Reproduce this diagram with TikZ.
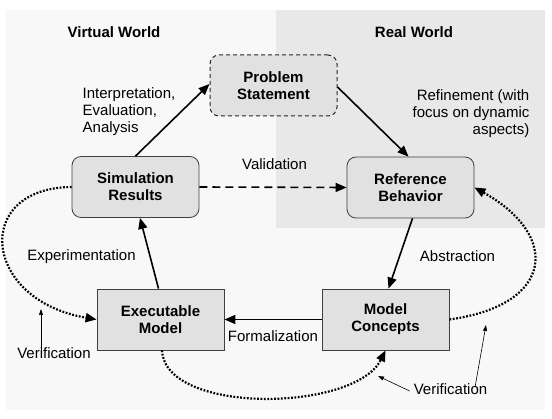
\documentclass[tikz,border=0pt]{standalone}
\usepackage{fontspec}
\setmainfont{Liberation Sans}
\usetikzlibrary{arrows.meta}
\definecolor{bgcol}{HTML}{F8F8F8}
\definecolor{realcol}{HTML}{E8E8E8}
\definecolor{boxcol}{HTML}{E1E1E1}
\definecolor{edgecol}{HTML}{404040}
\tikzset{
  stagebox/.style={draw=edgecol, line width=0.8pt, fill=boxcol, minimum width=127pt,
    minimum height=61pt, align=center, font=\fontsize{15}{17}\selectfont\bfseries, inner sep=0pt},
  roundbox/.style={stagebox, rounded corners=9pt},
  flow/.style={line width=1.6pt, -{Triangle[length=11pt,width=9pt]}},
  checkloop/.style={line width=2.2pt, dash pattern=on 1.8pt off 1.6pt, -{Triangle[length=11pt,width=9pt]}},
  thinarrow/.style={line width=0.6pt, -{Triangle[length=6pt,width=4pt]}},
  lbl/.style={inner sep=0pt, align=left}
}
\begin{document}
\begin{tikzpicture}[x=1pt, y=-1pt, font=\fontsize{15}{17}\selectfont]
\useasboundingbox (0,0) rectangle (552,419);
% Backgrounds
\fill[bgcol] (6,10) rectangle (545,410);
\fill[realcol] (276,10) rectangle (545,228);
% Titles
\node[lbl, font=\fontsize{15}{17}\selectfont\bfseries] (virt) at (114,32) {Virtual World};
\node[lbl, font=\fontsize{15}{17}\selectfont\bfseries] (real) at (414,32) {Real World};
% Boxes
\node[roundbox, draw=black!85, line width=1pt, dash pattern=on 4pt off 3pt] (prob) at (273.5,85.5) {Problem\\Statement};
\node[roundbox] (sim) at (135.5,187) {Simulation\\Results};
\node[roundbox] (ref) at (410.5,187.5) {Reference\\Behavior};
\node[stagebox] (exe) at (160.5,319.5) {Executable\\Model};
\node[stagebox] (mod) at (385.5,319.5) {Model\\Concepts};
% Main cycle
\draw[flow] (sim.north) -- ([yshift=1.5pt]prob.west);
\draw[flow] ([yshift=-1.5pt]prob.east) -- ([xshift=-2pt]ref.north);
\draw[flow] ([xshift=2pt]ref.south) -- ([xshift=3pt]mod.north);
\draw[flow] (mod.west) -- (exe.east);
\draw[flow] ([xshift=-2pt]exe.north) -- ([xshift=4.5pt]sim.south);
\draw[flow, dash pattern=on 8pt off 5pt] (sim.east) -- (ref.west);
% Verification loops
\draw[checkloop] (sim.west) .. controls (-28,188) and (-18,300) .. (exe.west);
\draw[checkloop] ([xshift=1.5pt]exe.south) .. controls (165,415) and (355,412) .. (mod.south);
\draw[checkloop] (mod.east) .. controls (555,305) and (560,235) .. (ref.east);
% Labels
\node[lbl] (interp) at (129,112) {Interpretation,\\Evaluation,\\Analysis};
\node[lbl, align=right] (refine) at (471,114) {Refinement (with\\focus on dynamic\\aspects)};
\node[lbl] (valid) at (274.5,164) {Validation};
\node[lbl] (exper) at (81.5,257) {Experimentation};
\node[lbl] (abstr) at (457.5,256) {Abstraction};
\node[lbl] (formal) at (273,336) {Formalization};
\node[lbl] (ver1) at (54,353) {Verification};
\node[lbl] (ver2) at (450.5,389) {Verification};
% Verification pointers
\coordinate (v1) at (41,309);
\coordinate (v2) at (378,376);
\coordinate (v3) at (486,325);
\draw[thinarrow] ([xshift=-13pt, yshift=-10pt]ver1.north) -- (v1);
\draw[thinarrow] ([xshift=-4pt, yshift=-2pt]ver2.west) -- (v2);
\draw[thinarrow] ([xshift=24.5pt, yshift=-4pt]ver2.north) -- (v3);
\end{tikzpicture}
\end{document}
